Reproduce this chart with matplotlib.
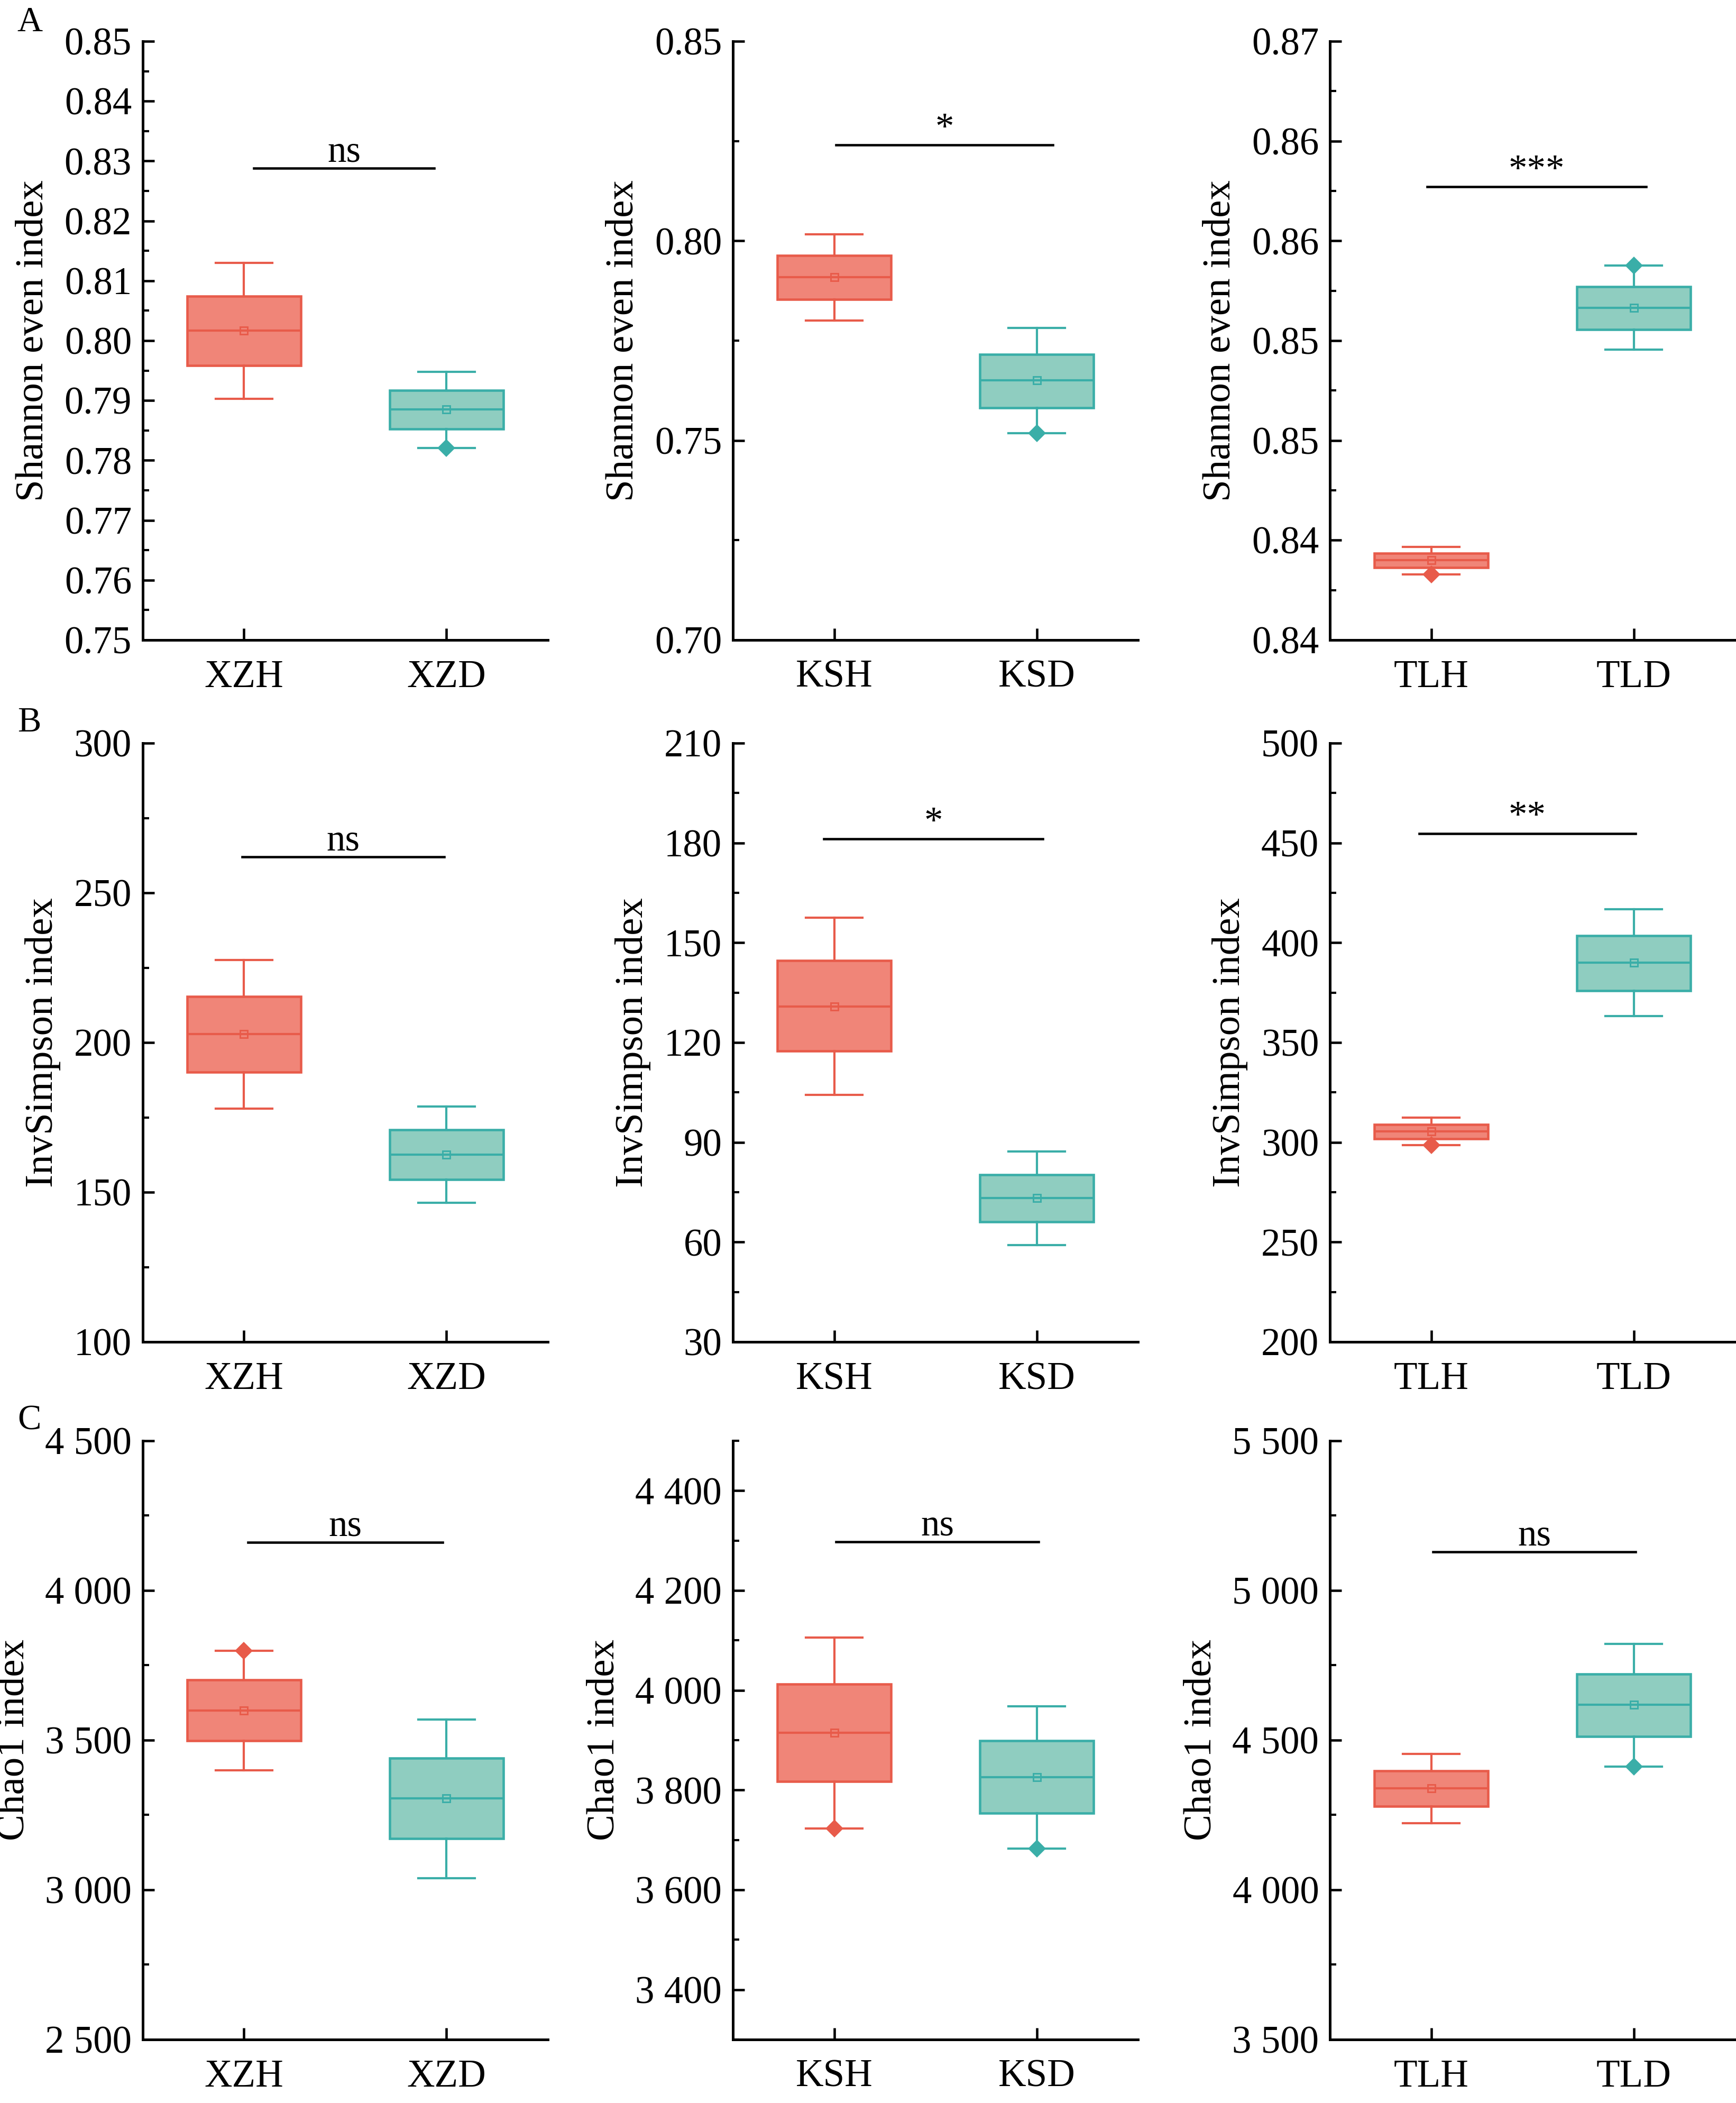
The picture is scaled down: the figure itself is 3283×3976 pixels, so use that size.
import matplotlib
matplotlib.use('Agg')
import matplotlib.pyplot as plt
from matplotlib.ticker import MultipleLocator, FormatStrFormatter, FuncFormatter

plt.rcParams['font.family'] = ['Liberation Serif', 'DejaVu Serif']
plt.rcParams['mathtext.fontset'] = 'stix'

sites = [['XZH', 'XZD'], ['KSH', 'KSD'], ['TLH', 'TLD']]

# Shannon even index (row A)
shannon_whislo = [[0.7903, 0.7821], [0.7800, 0.7518], [0.84329, 0.85454]]
shannon_q1 = [[0.7958, 0.7852], [0.7853, 0.7582], [0.84362, 0.85555]]
shannon_med = [[0.8017, 0.7885], [0.7909, 0.7650], [0.84399, 0.85664]]
shannon_q3 = [[0.8074, 0.7917], [0.7963, 0.7716], [0.84434, 0.85770]]
shannon_whishi = [[0.8130, 0.7948], [0.8016, 0.7782], [0.84467, 0.85875]]
shannon_mean = [[0.8017, 0.7885], [0.7909, 0.7650], [0.84399, 0.85664]]
shannon_fliers = [[[], [0.7821]], [[], [0.7518]], [[0.84329], [0.85875]]]
shannon_sig = ['ns', '*', '***']
shannon_sig_y = [0.8288, 0.8240, 0.8627]
shannon_sig_x = [[1.05, 1.94], [1.01, 2.08], [0.98, 2.06]]
shannon_ylim = [(0.75, 0.85), (0.70, 0.85), (0.84, 0.87)]
shannon_major = [0.01, 0.05, 0.005]
tl_shannon_ticks = [0.840, 0.845, 0.850, 0.855, 0.860, 0.865, 0.870]
tl_shannon_labels = ['0.84', '0.84', '0.85', '0.85', '0.86', '0.86', '0.87']

# InvSimpson index (row B)
inv_whislo = [[177.9, 146.4], [104.3, 59.1], [298.6, 363.2]]
inv_q1 = [[190.2, 154.2], [117.4, 66.1], [301.9, 376.1]]
inv_med = [[202.8, 162.6], [130.9, 73.2], [305.6, 390.0]]
inv_q3 = [[215.4, 170.8], [144.6, 80.3], [308.9, 403.6]]
inv_whishi = [[227.5, 178.7], [157.5, 87.2], [312.4, 416.8]]
inv_mean = [[202.8, 162.6], [130.9, 73.2], [305.6, 390.0]]
inv_fliers = [[[], []], [[], []], [[298.6], []]]
inv_sig = ['ns', '*', '**']
inv_sig_y = [262.1, 181.2, 454.8]
inv_sig_x = [[0.99, 1.99], [0.95, 2.03], [0.94, 2.01]]
inv_ylim = [(100, 300), (30, 210), (200, 500)]
inv_major = [50, 30, 50]

# Chao1 index (row C)
chao_whislo = [[3400, 3039], [3723, 3683], [4223, 4412]]
chao_q1 = [[3498, 3171], [3817, 3754], [4279, 4512]]
chao_med = [[3599, 3305], [3915, 3826], [4339, 4618]]
chao_q3 = [[3702, 3439], [4012, 3899], [4397, 4720]]
chao_whishi = [[3799, 3569], [4106, 3968], [4454, 4822]]
chao_mean = [[3599, 3305], [3915, 3826], [4339, 4618]]
chao_fliers = [[[3799], []], [[3723], [3683]], [[], [4412]]]
chao_sig = ['ns', 'ns', 'ns']
chao_sig_y = [4160, 4297, 5129]
chao_sig_x = [[1.02, 1.98], [1.01, 2.01], [1.01, 2.01]]
chao_ylim = [(2500, 4500), (3300, 4500), (3500, 5500)]
chao_major = [500, 200, 500]

edge_colors = ['#E85B4A', '#3AAEA8']
fill_colors = ['#F08578', '#8FCDC0']

rows = [
    dict(name='Shannon even index', whislo=shannon_whislo, q1=shannon_q1, med=shannon_med,
         q3=shannon_q3, whishi=shannon_whishi, mean=shannon_mean, fliers=shannon_fliers,
         sig=shannon_sig, sig_y=shannon_sig_y, sig_x=shannon_sig_x, ylim=shannon_ylim,
         major=shannon_major, fmt=FormatStrFormatter('%.2f')),
    dict(name='InvSimpson index', whislo=inv_whislo, q1=inv_q1, med=inv_med,
         q3=inv_q3, whishi=inv_whishi, mean=inv_mean, fliers=inv_fliers,
         sig=inv_sig, sig_y=inv_sig_y, sig_x=inv_sig_x, ylim=inv_ylim,
         major=inv_major, fmt=FormatStrFormatter('%d')),
    dict(name='Chao1 index', whislo=chao_whislo, q1=chao_q1, med=chao_med,
         q3=chao_q3, whishi=chao_whishi, mean=chao_mean, fliers=chao_fliers,
         sig=chao_sig, sig_y=chao_sig_y, sig_x=chao_sig_x, ylim=chao_ylim,
         major=chao_major,
         fmt=FuncFormatter(lambda v, p: f'{v:,.0f}'.replace(',', ' '))),
]

fig = plt.figure(figsize=(3283 / 300, 3976 / 300), dpi=300)

lefts = [0.0822, 0.4222, 0.7661]
bottoms = [0.6957, 0.3619, 0.0302]
w, h = 0.2333, 0.2847
letters = ['A', 'B', 'C']
letter_y = [0.997, 0.664, 0.332]

for r, row in enumerate(rows):
    for c in range(3):
        ax = fig.add_axes([lefts[c], bottoms[r], w, h])
        stats = []
        for k in range(2):
            stats.append(dict(label=sites[c][k], whislo=row['whislo'][c][k], q1=row['q1'][c][k],
                              med=row['med'][c][k], q3=row['q3'][c][k],
                              whishi=row['whishi'][c][k], mean=row['mean'][c][k],
                              fliers=row['fliers'][c][k]))
        for k in range(2):
            ec, fc = edge_colors[k], fill_colors[k]
            ax.bxp([stats[k]], positions=[k + 1], widths=0.56, capwidths=0.28,
                   patch_artist=True, showmeans=True,
                   boxprops=dict(facecolor=fc, edgecolor=ec, linewidth=1.1),
                   medianprops=dict(color=ec, linewidth=1.0),
                   whiskerprops=dict(color=ec, linewidth=1.0),
                   capprops=dict(color=ec, linewidth=1.0),
                   meanprops=dict(marker='s', markerfacecolor='none', markeredgecolor=ec,
                                  markersize=3.2, markeredgewidth=0.7),
                   flierprops=dict(marker='D', markerfacecolor=ec, markeredgecolor=ec,
                                   markersize=4.6))

        ax.set_xlim(0.5, 2.5)
        ax.set_ylim(*row['ylim'][c])
        ax.yaxis.set_major_locator(MultipleLocator(row['major'][c]))
        ax.yaxis.set_minor_locator(MultipleLocator(row['major'][c] / 2))
        ax.yaxis.set_major_formatter(row['fmt'])
        if r == 0 and c == 2:
            ax.set_yticks(tl_shannon_ticks, tl_shannon_labels)
        ax.set_xticks([1, 2], sites[c])

        for s in ['top', 'right']:
            ax.spines[s].set_visible(False)
        for s in ['left', 'bottom']:
            ax.spines[s].set_linewidth(1.2)
        ax.tick_params(which='major', direction='in', length=5.2, width=1.1,
                       labelsize=17.5, pad=5)
        ax.tick_params(which='minor', direction='in', length=2.8, width=1.0)
        ax.tick_params(axis='x', labelsize=17.5, pad=9)
        ax.set_ylabel(row['name'], fontsize=18, labelpad=6)

        # significance bar
        x0, x1 = row['sig_x'][c]
        y = row['sig_y'][c]
        ax.plot([x0, x1], [y, y], color='black', linewidth=1.1)
        ax.annotate(row['sig'][c], xy=((x0 + x1) / 2, y), xytext=(0, 3),
                    textcoords='offset points', ha='center', va='baseline', fontsize=17)

    fig.text(0.01, letter_y[r], letters[r], fontsize=16, ha='left', va='top')

fig.savefig('out.png', dpi=300)
